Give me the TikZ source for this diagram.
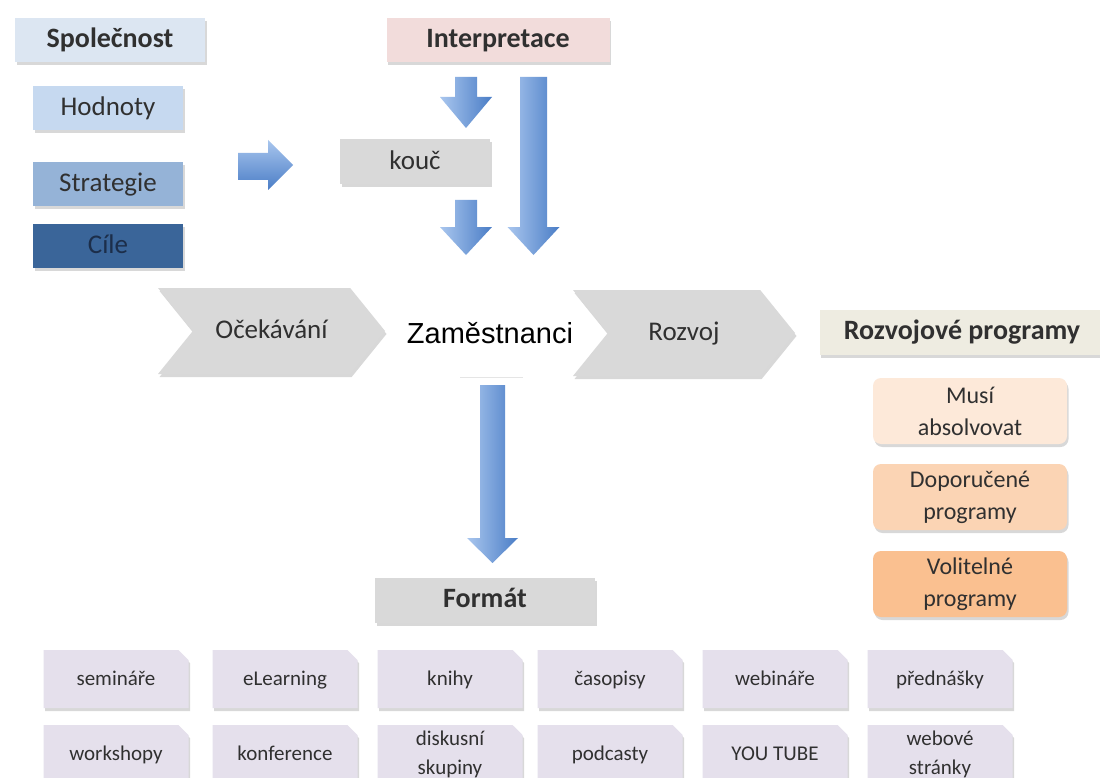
\documentclass[tikz,border=0pt]{standalone}
\usepackage{fontspec}
\setmainfont{Carlito}
\newfontfamily\arialfont{Liberation Sans}
\usetikzlibrary{positioning, shapes.misc, shapes.symbols, shadows}

\definecolor{textgray}{HTML}{303030}
\definecolor{spolblue}{HTML}{DCE6F2}
\definecolor{hodnblue}{HTML}{C6D9F0}
\definecolor{stratblue}{HTML}{95B3D7}
\definecolor{cileblue}{HTML}{3A6599}
\definecolor{ciletext}{HTML}{1C2E4A}
\definecolor{interppink}{HTML}{F2DCDB}
\definecolor{boxgray}{HTML}{D9D9D9}
\definecolor{progbeige}{HTML}{EEECE1}
\definecolor{musipeach}{HTML}{FDE9D9}
\definecolor{doporpeach}{HTML}{FBD4B4}
\definecolor{volitpeach}{HTML}{FAC090}
\definecolor{formlav}{HTML}{E5E0EC}
\definecolor{arrowlight}{HTML}{A9C6EE}
\definecolor{arrowdark}{HTML}{4A7DC6}

% block arrow pointing down: x, top, head start, tip, shaft half, head half
\newcommand{\blkdown}[6]{%
  \shade[left color=arrowlight, right color=arrowdark]
    (#1-#5,#2) -- (#1+#5,#2) -- (#1+#5,#3) -- (#1+#6,#3) -- (#1,#4)
    -- (#1-#6,#3) -- (#1-#5,#3) -- cycle;}

\begin{document}
\begin{tikzpicture}[x=1pt, y=-1pt,
    shad/.style={drop shadow={shadow xshift=1.5pt, shadow yshift=-3pt, opacity=0.3}},
    oneline/.style={text height=19pt, text depth=4pt},
    smallline/.style={text height=15pt, text depth=3pt},
    box/.style={rectangle, inner sep=0pt, align=center, text=textgray,
      font=\fontsize{27}{30}\selectfont, shad},
    onebox/.style={box, oneline},
    headbox/.style={box, oneline, font=\fontsize{28}{32}\selectfont\bfseries},
    chevron/.style={shape=signal, signal from=west, signal to=east,
      signal pointer angle=102, fill=boxgray, inner sep=0pt, text=textgray,
      minimum height=86pt, font=\fontsize{27}{30}\selectfont, oneline, shad},
    progbox/.style={box, rounded corners=8pt, minimum width=194pt, minimum height=66pt,
      font=\fontsize{24}{32}\selectfont},
    formbox/.style={chamfered rectangle, chamfered rectangle corners=north east,
      chamfered rectangle xsep=5pt, chamfered rectangle ysep=5pt, inner sep=0pt,
      fill=formlav, align=center, text=textgray, minimum width=145pt, minimum height=58pt,
      font=\fontsize{21}{29}\selectfont, shad},
    formone/.style={formbox, smallline}]

  \useasboundingbox (0,0) rectangle (1100,778);
  \clip (0,0) rectangle (1100,778);
  \fill[white] (0,0) rectangle (1100,778);

  \node[headbox, fill=spolblue, minimum width=190pt, minimum height=44pt] (spol) at (110,40) {Společnost};
  \node[onebox, fill=hodnblue, minimum width=150pt, minimum height=44pt] (hodn) at (108,108) {Hodnoty};
  \node[onebox, fill=stratblue, minimum width=150pt, minimum height=44pt] (strat) at (108,184) {Strategie};
  \node[onebox, fill=cileblue, text=ciletext, minimum width=150pt, minimum height=44pt] (cile) at (108,246) {Cíle};

  \shade[top color=arrowlight, bottom color=arrowdark]
    (238,153) -- (268,153) -- (268,140) -- (293,165) -- (268,190) -- (268,180) -- (238,180) -- cycle;

  \node[headbox, fill=interppink, minimum width=223pt, minimum height=44pt] (interp) at (498,40) {Interpretace};
  \node[onebox, fill=boxgray, minimum width=150pt, minimum height=45pt] (kouc) at (415,162) {kouč};

  \blkdown{466}{77}{97}{128}{11}{26}
  \blkdown{466}{200}{227}{255}{11}{26}
  \blkdown{533.5}{77}{227}{255}{13.5}{26}

  \node[chevron, minimum width=227pt] (ocek) at (271.5,331) {Očekávání};
  \node[text=black, font=\arialfont\fontsize{29}{32}\selectfont] (zam) at (490,333) {Zaměstnanci};
  \node[chevron, minimum width=222pt] (rozv) at (684,333) {Rozvoj};
  \draw[black!10, line width=1pt] (460,377) -- (523,377);

  \blkdown{492.5}{385}{538}{563}{12.5}{25.5}

  \node[headbox, fill=progbeige, minimum width=285pt, minimum height=45pt] (rprog) at (962,332) {Rozvojové programy};
  \node[progbox, fill=musipeach] (musi) at (970,411) {Musí\\absolvovat};
  \node[progbox, fill=doporpeach] (dopor) at (970,497) {Doporučené\\programy};
  \node[progbox, fill=volitpeach] (volit) at (970,584) {Volitelné\\programy};

  \node[headbox, fill=boxgray, minimum width=220pt, minimum height=45pt] (format) at (485,600) {Formát};

  \node[formone] (semin) at (116,679) {semináře};
  \node[formone] (elearn) at (285,679) {eLearning};
  \node[formone] (knihy) at (450,679) {knihy};
  \node[formone] (casop) at (610,679) {časopisy};
  \node[formone] (webin) at (775,679) {webináře};
  \node[formone] (predn) at (940,679) {přednášky};
  \node[formone] (works) at (116,754) {workshopy};
  \node[formone] (konf) at (285,754) {konference};
  \node[formbox] (disk) at (450,754) {diskusní\\skupiny};
  \node[formone] (podc) at (610,754) {podcasty};
  \node[formone] (yt) at (775,754) {YOU TUBE};
  \node[formbox] (webst) at (940,754) {webové\\stránky};
\end{tikzpicture}
\end{document}
